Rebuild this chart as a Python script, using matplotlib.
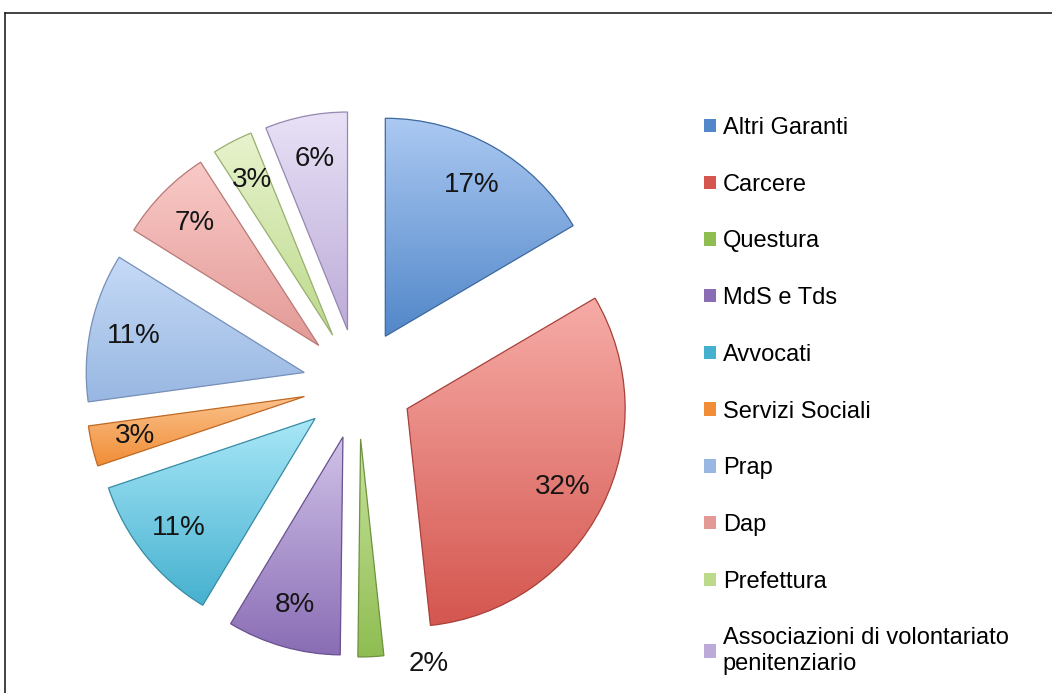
import numpy as np
import matplotlib
matplotlib.use('Agg')
import matplotlib.pyplot as plt
from matplotlib.colors import LinearSegmentedColormap
from matplotlib.patches import PathPatch
from matplotlib.lines import Line2D

plt.rcParams['font.family'] = ['Liberation Sans', 'DejaVu Sans']

labels = ['Altri Garanti', 'Carcere', 'Questura', 'MdS e Tds', 'Avvocati',
          'Servizi Sociali', 'Prap', 'Dap', 'Prefettura',
          'Associazioni di volontariato\npenitenziario']
# shares (%); labels show them rounded
values = [16.5, 31.7, 1.9, 8.4, 11.2, 3.0, 11.0, 7.0, 3.0, 6.1]

# light (top) / dark (bottom) gradient colours per slice
tops = ['#abc9f2', '#f7aca7', '#c8e29c', '#d0c2e8', '#a9e7f8',
        '#fbc28c', '#c5daf6', '#f9cac8', '#e8f3ce', '#e8e1f6']
bottoms = ['#5287c9', '#d4564f', '#8fbd52', '#8a6db5', '#46b1cf',
           '#f08d36', '#98b7e2', '#e39a96', '#bdda8c', '#bcabd8']
edges = ['#3f6aa0', '#a8423c', '#6f9240', '#6a5290', '#3a8ca5',
         '#c06a25', '#7890b8', '#b87a77', '#98b070', '#9788b0']

W, H = 1052, 693
fig = plt.figure(figsize=(W / 100, H / 100), dpi=100)
ax = fig.add_axes([0, 0, 1, 1])
ax.set_xlim(0, W)
ax.set_ylim(0, H)
ax.axis('off')

radius = 218
wedges, texts, autotexts = ax.pie(
    values, explode=[55] * len(values), center=(358, H - 384), radius=radius,
    startangle=90, counterclock=False, colors=bottoms,
    autopct='%1.0f%%', pctdistance=0.8, frame=True,
    textprops=dict(fontsize=20, color='#151515'),
    wedgeprops=dict(linewidth=0, zorder=1))

for w, top, bot, ec in zip(wedges, tops, bottoms, edges):
    bb = w.get_path().get_extents()
    cmap = LinearSegmentedColormap.from_list('g', [bot, top])
    grad = np.linspace(0, 1, 256).reshape(-1, 1)
    ax.imshow(grad, cmap=cmap, extent=(bb.x0, bb.x1, bb.y0, bb.y1),
              origin='lower', aspect='auto', clip_path=w, zorder=2,
              interpolation='bilinear')
    ax.add_patch(PathPatch(w.get_path(), fc='none', ec=ec, lw=0.9, zorder=3))

for t in autotexts:
    t.set_zorder(5)

# small slice label placed outside
wq = wedges[2]
ang = np.deg2rad((wq.theta1 + wq.theta2) / 2 + 14)
autotexts[2].set_position((wq.center[0] + 1.08 * radius * np.cos(ang),
                           wq.center[1] + 1.08 * radius * np.sin(ang)))

ax.set_xlim(0, W)
ax.set_ylim(0, H)

leg = ax.legend(wedges, labels, loc='upper left',
                bbox_to_anchor=(704 / W, 1 - 117 / H),
                bbox_transform=fig.transFigure, frameon=False,
                fontsize=17, handlelength=0.5, handleheight=0.5,
                handletextpad=0.3, labelspacing=1.47, borderpad=0,
                borderaxespad=0)

# outer frame
fig.add_artist(Line2D([5 / W, 1], [1 - 13 / H, 1 - 13 / H],
                      transform=fig.transFigure, color='#222222', lw=1.2))
fig.add_artist(Line2D([5 / W, 5 / W], [1 - 13 / H, 0],
                      transform=fig.transFigure, color='#222222', lw=1.2))

fig.savefig('out.png', dpi=100, facecolor='white')
